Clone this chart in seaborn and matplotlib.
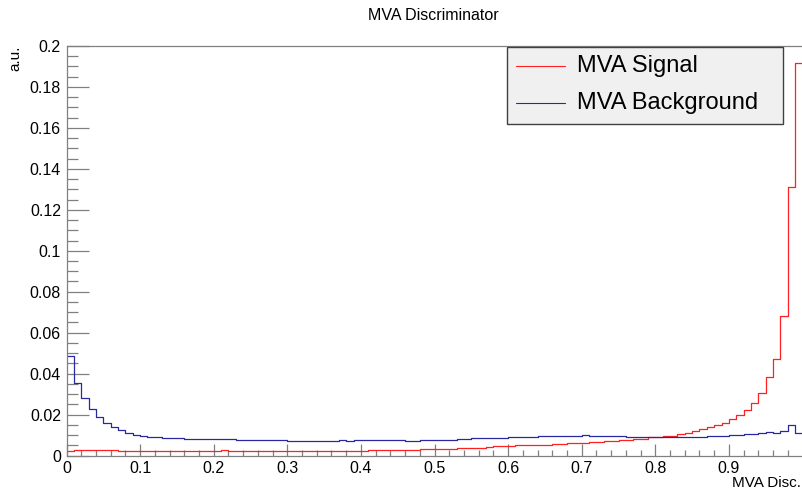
import numpy as np
import pandas as pd
import seaborn as sns
import matplotlib
matplotlib.use("Agg")
import matplotlib.pyplot as plt
from matplotlib.patches import Rectangle
from matplotlib.lines import Line2D

# ---------------- data (100 bins of width 0.01 on [0,1]) ----------------
bin_edges = [round(i * 0.01, 2) for i in range(101)]

background = [
    0.0486, 0.0356, 0.0282, 0.0228, 0.0187, 0.0160, 0.0137, 0.0126, 0.0111, 0.0101,
    0.0095, 0.0091, 0.0088, 0.0086, 0.0084, 0.0084, 0.0083, 0.0081, 0.0081, 0.0080,
    0.0080, 0.0079, 0.0079, 0.0078, 0.0078, 0.0076, 0.0076, 0.0076, 0.0076, 0.0075,
    0.0071, 0.0071, 0.0071, 0.0071, 0.0071, 0.0071, 0.0071, 0.0074, 0.0071, 0.0075,
    0.0075, 0.0075, 0.0075, 0.0075, 0.0075, 0.0075, 0.0073, 0.0073, 0.0076, 0.0076,
    0.0076, 0.0076, 0.0076, 0.0082, 0.0082, 0.0085, 0.0085, 0.0085, 0.0085, 0.0085,
    0.0089, 0.0089, 0.0089, 0.0089, 0.0095, 0.0095, 0.0095, 0.0095, 0.0095, 0.0095,
    0.0099, 0.0095, 0.0095, 0.0095, 0.0095, 0.0095, 0.0090, 0.0090, 0.0090, 0.0090,
    0.0088, 0.0088, 0.0088, 0.0092, 0.0092, 0.0092, 0.0092, 0.0095, 0.0095, 0.0095,
    0.0100, 0.0100, 0.0103, 0.0103, 0.0108, 0.0113, 0.0108, 0.0120, 0.0149, 0.0108,
]

signal = [
    0.0020, 0.0025, 0.0025, 0.0025, 0.0025, 0.0025, 0.0025, 0.0023, 0.0023, 0.0023,
    0.0023, 0.0023, 0.0023, 0.0023, 0.0023, 0.0023, 0.0023, 0.0023, 0.0023, 0.0023,
    0.0023, 0.0025, 0.0022, 0.0022, 0.0022, 0.0022, 0.0022, 0.0022, 0.0022, 0.0022,
    0.0022, 0.0022, 0.0022, 0.0022, 0.0022, 0.0022, 0.0022, 0.0022, 0.0022, 0.0022,
    0.0022, 0.0027, 0.0027, 0.0027, 0.0027, 0.0029, 0.0029, 0.0029, 0.0032, 0.0032,
    0.0032, 0.0032, 0.0032, 0.0035, 0.0035, 0.0035, 0.0035, 0.0040, 0.0046, 0.0044,
    0.0046, 0.0050, 0.0050, 0.0053, 0.0053, 0.0053, 0.0055, 0.0055, 0.0060, 0.0060,
    0.0060, 0.0064, 0.0064, 0.0071, 0.0071, 0.0076, 0.0076, 0.0081, 0.0081, 0.0088,
    0.0088, 0.0095, 0.0095, 0.0104, 0.0110, 0.0120, 0.0130, 0.0139, 0.0147, 0.0158,
    0.0180, 0.0199, 0.0223, 0.0256, 0.0306, 0.0385, 0.0470, 0.0680, 0.1310, 0.1915,
]

series_names = ["MVA Signal", "MVA Background"]
series_colors = ["#ff2020", "#2828a0"]
x_ticks = [0, 0.1, 0.2, 0.3, 0.4, 0.5, 0.6, 0.7, 0.8, 0.9]
x_tick_labels = ["0", "0.1", "0.2", "0.3", "0.4", "0.5", "0.6", "0.7", "0.8", "0.9"]
y_ticks = [0, 0.02, 0.04, 0.06, 0.08, 0.1, 0.12, 0.14, 0.16, 0.18, 0.2]
y_tick_labels = ["0", "0.02", "0.04", "0.06", "0.08", "0.1", "0.12", "0.14", "0.16", "0.18", "0.2"]
title = "MVA Discriminator"
x_title = "MVA Disc."
y_title = "a.u."

# ---------------- figure ----------------
sns.set_theme(style="ticks")
plt.rcParams["font.family"] = ["Liberation Sans", "DejaVu Sans"]

W, H = 802, 492
fig = plt.figure(figsize=(W / 100, H / 100), dpi=100, facecolor="white")

def fx(px):
    return px / W

def fy(py):
    return 1 - py / H

ax_left, ax_right, ax_top, ax_bot = 66.5, 802.5, 46.0, 455.5
ax = fig.add_axes([fx(ax_left), fy(ax_bot), fx(ax_right - ax_left), (ax_bot - ax_top) / H])
ax.set_facecolor("white")

centers = [(bin_edges[i] + bin_edges[i + 1]) / 2 for i in range(100)]
df = pd.DataFrame({
    "x": centers * 2,
    "w": signal + background,
    "series": [series_names[0]] * 100 + [series_names[1]] * 100,
})

for name, col in zip(series_names, series_colors):
    sub = df[df["series"] == name]
    sns.histplot(data=sub, x="x", weights="w", bins=bin_edges, element="step",
                 fill=False, color=col, linewidth=0.9, ax=ax, legend=False)

ax.set_xlim(0, 1)
ax.set_ylim(0, 0.2)
ax.set_xlabel("")
ax.set_ylabel("")

frame_col = "#808080"
for s in ["left", "bottom", "top"]:
    ax.spines[s].set_color(frame_col)
    ax.spines[s].set_linewidth(0.9)
ax.spines["right"].set_visible(False)

ax.set_xticks(x_ticks)
ax.set_xticklabels(x_tick_labels)
ax.set_yticks(y_ticks)
ax.set_yticklabels(y_tick_labels)
ax.xaxis.set_minor_locator(matplotlib.ticker.MultipleLocator(0.02))
ax.yaxis.set_minor_locator(matplotlib.ticker.MultipleLocator(0.005))
ax.tick_params(axis="x", which="major", direction="in", length=8.6, width=0.9,
               color=frame_col, labelsize=11.5, pad=4, labelcolor="black", top=False)
ax.tick_params(axis="x", which="minor", direction="in", length=4.3, width=0.9,
               color=frame_col, top=False)
ax.tick_params(axis="y", which="major", direction="in", length=15.8, width=0.9,
               color=frame_col, labelsize=11.5, pad=4, labelcolor="black", right=False)
ax.tick_params(axis="y", which="minor", direction="in", length=7.9, width=0.9,
               color=frame_col, right=False)

# titles
fig.text(fx(433), fy(15), title, ha="center", va="center", fontsize=11.5, color="black")
fig.text(fx(801), fy(483), x_title, ha="right", va="center", fontsize=11, color="black")
fig.text(fx(15), fy(46), y_title, ha="center", va="top", rotation=90, fontsize=11, color="black")

# legend box (ROOT style)
lx0, ly0, lx1, ly1 = 507, 47, 783, 124
fig.patches.append(Rectangle((fx(lx0), fy(ly1)), fx(lx1 - lx0), (ly1 - ly0) / H,
                             transform=fig.transFigure, facecolor="#f0f0f0",
                             edgecolor="#404040", linewidth=1.0, zorder=5))
for name, col, yy in zip(series_names, series_colors, [66, 103]):
    fig.lines.append(Line2D([fx(516), fx(565)], [fy(yy), fy(yy)], transform=fig.transFigure,
                            color=col, linewidth=0.8, zorder=6))
    fig.text(fx(577), fy(yy), name, ha="left", va="center", fontsize=17, color="black", zorder=7)

fig.savefig("out.png", dpi=100, facecolor="white")
